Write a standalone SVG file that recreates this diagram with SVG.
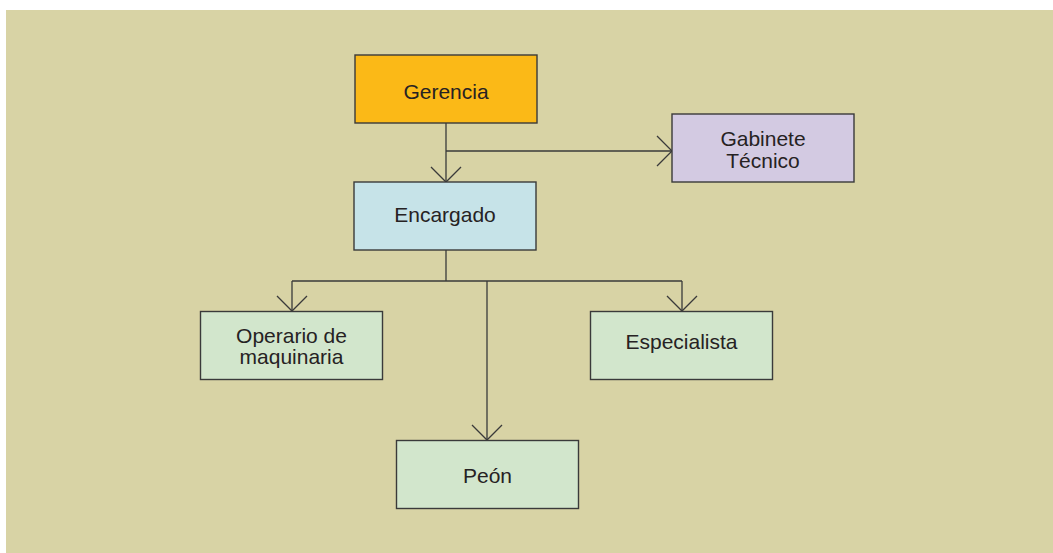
<svg xmlns="http://www.w3.org/2000/svg" width="1053" height="553" viewBox="0 0 1053 553">
  <style>
    .box { stroke: #3a3a3a; stroke-width: 1.4; }
    .lbl { font-family: "Liberation Sans", Arial, sans-serif; font-size: 21px; fill: #262223; text-anchor: middle; }
    .conn { fill: none; stroke: #3a3a3a; stroke-width: 1.3; }
  </style>
  <defs>
    <marker id="arr" viewBox="-16 -16 18 32" refX="0" refY="0" markerWidth="18" markerHeight="32" markerUnits="userSpaceOnUse" orient="auto">
      <path d="M-15,-15 L0,0 L-15,15" fill="none" stroke="#3a3a3a" stroke-width="1.3"/>
    </marker>
  </defs>
  <rect x="0" y="0" width="1053" height="553" fill="#ffffff"/>
  <rect x="6" y="10" width="1047" height="543" fill="#d8d3a5"/>

  <g id="connectors">
    <path class="conn" d="M446,123 L446,182" marker-end="url(#arr)" stroke-width="2"/>
    <path class="conn" d="M446,151 L672,151" marker-end="url(#arr)"/>
    <path class="conn" d="M446,250 L446,281" stroke-width="2"/>
    <path class="conn" d="M292,281 L682,281"/>
    <path class="conn" d="M292,281 L292,311" marker-end="url(#arr)"/>
    <path class="conn" d="M682,281 L682,311" marker-end="url(#arr)"/>
    <path class="conn" d="M487,281 L487,440" marker-end="url(#arr)"/>
  </g>

  <g id="gerencia">
    <rect class="box" x="355" y="55" width="182" height="68" fill="#fbb917"/>
    <text class="lbl" x="446" y="99">Gerencia</text>
  </g>
  <g id="gabinete">
    <rect class="box" x="672" y="114" width="182" height="68" fill="#d3cae2"/>
    <text class="lbl" x="763" y="146">Gabinete</text>
    <text class="lbl" x="763" y="167.5">Técnico</text>
  </g>
  <g id="encargado">
    <rect class="box" x="354" y="182" width="182" height="68" fill="#c6e3e8"/>
    <text class="lbl" x="445" y="222">Encargado</text>
  </g>
  <g id="operario">
    <rect class="box" x="200.5" y="311.5" width="182" height="68" fill="#d2e6cc"/>
    <text class="lbl" x="291.5" y="342.5">Operario de</text>
    <text class="lbl" x="291.5" y="364">maquinaria</text>
  </g>
  <g id="especialista">
    <rect class="box" x="590.5" y="311.5" width="182" height="68" fill="#d2e6cc"/>
    <text class="lbl" x="681.5" y="349">Especialista</text>
  </g>
  <g id="peon">
    <rect class="box" x="396.5" y="440.5" width="182" height="68" fill="#d2e6cc"/>
    <text class="lbl" x="487.5" y="483">Peón</text>
  </g>
</svg>
